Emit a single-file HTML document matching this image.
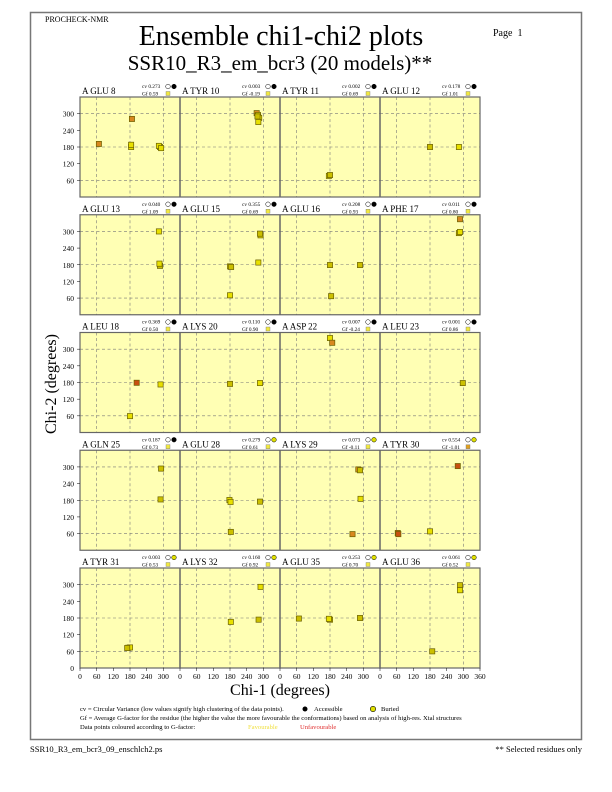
<!DOCTYPE html>
<html><head><meta charset="utf-8"><style>
body{margin:0;background:#fff}
svg{display:block}
text{font-family:"Liberation Serif",serif;fill:#000}
.yt{font-size:7.5px;text-anchor:end}
.xt{font-size:7.5px;text-anchor:middle}
.nm{font-size:9px}
.sm{font-size:5.3px}
.lg{font-size:6.6px}
</style></head><body>
<svg id="s" width="612" height="792" viewBox="0 0 612 792" xmlns="http://www.w3.org/2000/svg">
<rect x="30.5" y="12.5" width="551" height="727" fill="none" stroke="#777" stroke-width="1.5"/>
<text x="45" y="22" style="font-size:8px">PROCHECK-NMR</text>
<text x="281" y="45" style="font-size:28px;text-anchor:middle">Ensemble chi1-chi2 plots</text>
<text x="280" y="70" style="font-size:21px;text-anchor:middle">SSR10_R3_em_bcr3 (20 models)**</text>
<text x="493" y="36" style="font-size:10px">Page&#160; 1</text>
<g id="panels"></g>
<text transform="translate(56,384) rotate(-90)" style="font-size:16px;text-anchor:middle">Chi-2 (degrees)</text>
<text x="280" y="695" style="font-size:16px;text-anchor:middle">Chi-1 (degrees)</text>
<g class="yt">
<text class="yt" x="74" y="116.7">300</text><text class="yt" x="74" y="133.3">240</text><text class="yt" x="74" y="150">180</text><text class="yt" x="74" y="166.7">120</text><text class="yt" x="74" y="183.3">60</text>
<text class="yt" x="74" y="234.4">300</text><text class="yt" x="74" y="251.1">240</text><text class="yt" x="74" y="267.8">180</text><text class="yt" x="74" y="284.4">120</text><text class="yt" x="74" y="301.1">60</text>
<text class="yt" x="74" y="352.2">300</text><text class="yt" x="74" y="368.8">240</text><text class="yt" x="74" y="385.5">180</text><text class="yt" x="74" y="402.2">120</text><text class="yt" x="74" y="418.8">60</text>
<text class="yt" x="74" y="469.9">300</text><text class="yt" x="74" y="486.6">240</text><text class="yt" x="74" y="503.3">180</text><text class="yt" x="74" y="519.9">120</text><text class="yt" x="74" y="536.6">60</text>
<text class="yt" x="74" y="587.7">300</text><text class="yt" x="74" y="604.3">240</text><text class="yt" x="74" y="621">180</text><text class="yt" x="74" y="637.7">120</text><text class="yt" x="74" y="654.3">60</text><text class="yt" x="74" y="671">0</text>
</g>
<g>
<text class="xt" x="80" y="679">0</text><text class="xt" x="96.7" y="679">60</text><text class="xt" x="113.3" y="679">120</text><text class="xt" x="130" y="679">180</text><text class="xt" x="146.7" y="679">240</text><text class="xt" x="163.3" y="679">300</text>
<text class="xt" x="180" y="679">0</text><text class="xt" x="196.7" y="679">60</text><text class="xt" x="213.3" y="679">120</text><text class="xt" x="230" y="679">180</text><text class="xt" x="246.7" y="679">240</text><text class="xt" x="263.3" y="679">300</text>
<text class="xt" x="280" y="679">0</text><text class="xt" x="296.7" y="679">60</text><text class="xt" x="313.3" y="679">120</text><text class="xt" x="330" y="679">180</text><text class="xt" x="346.7" y="679">240</text><text class="xt" x="363.3" y="679">300</text>
<text class="xt" x="380" y="679">0</text><text class="xt" x="396.7" y="679">60</text><text class="xt" x="413.3" y="679">120</text><text class="xt" x="430" y="679">180</text><text class="xt" x="446.7" y="679">240</text><text class="xt" x="463.3" y="679">300</text><text class="xt" x="480" y="679">360</text>
</g>
<g>
<text class="nm" x="82" y="94">A GLU 8</text><text class="nm" x="182" y="94">A TYR 10</text><text class="nm" x="282" y="94">A TYR 11</text><text class="nm" x="382" y="94">A GLU 12</text>
<text class="nm" x="82" y="211.8">A GLU 13</text><text class="nm" x="182" y="211.8">A GLU 15</text><text class="nm" x="282" y="211.8">A GLU 16</text><text class="nm" x="382" y="211.8">A PHE 17</text>
<text class="nm" x="82" y="329.5">A LEU 18</text><text class="nm" x="182" y="329.5">A LYS 20</text><text class="nm" x="282" y="329.5">A ASP 22</text><text class="nm" x="382" y="329.5">A LEU 23</text>
<text class="nm" x="82" y="447.3">A GLN 25</text><text class="nm" x="182" y="447.3">A GLU 28</text><text class="nm" x="282" y="447.3">A LYS 29</text><text class="nm" x="382" y="447.3">A TYR 30</text>
<text class="nm" x="82" y="565">A TYR 31</text><text class="nm" x="182" y="565">A LYS 32</text><text class="nm" x="282" y="565">A GLU 35</text><text class="nm" x="382" y="565">A GLU 36</text>
</g>
<g class="sm">
<text class="sm" x="142" y="88">cv 0.273</text><text class="sm" x="142" y="95.5">Gf 0.59</text>
<text class="sm" x="242" y="88">cv 0.003</text><text class="sm" x="242" y="95.5">Gf -0.19</text>
<text class="sm" x="342" y="88">cv 0.002</text><text class="sm" x="342" y="95.5">Gf 0.69</text>
<text class="sm" x="442" y="88">cv 0.178</text><text class="sm" x="442" y="95.5">Gf 1.01</text>
<text class="sm" x="142" y="205.8">cv 0.040</text><text class="sm" x="142" y="213.3">Gf 1.09</text>
<text class="sm" x="242" y="205.8">cv 0.355</text><text class="sm" x="242" y="213.3">Gf 0.69</text>
<text class="sm" x="342" y="205.8">cv 0.208</text><text class="sm" x="342" y="213.3">Gf 0.93</text>
<text class="sm" x="442" y="205.8">cv 0.011</text><text class="sm" x="442" y="213.3">Gf 0.80</text>
<text class="sm" x="142" y="323.5">cv 0.369</text><text class="sm" x="142" y="331">Gf 0.50</text>
<text class="sm" x="242" y="323.5">cv 0.110</text><text class="sm" x="242" y="331">Gf 0.90</text>
<text class="sm" x="342" y="323.5">cv 0.007</text><text class="sm" x="342" y="331">Gf -0.24</text>
<text class="sm" x="442" y="323.5">cv 0.001</text><text class="sm" x="442" y="331">Gf 0.86</text>
<text class="sm" x="142" y="441.3">cv 0.187</text><text class="sm" x="142" y="448.8">Gf 0.73</text>
<text class="sm" x="242" y="441.3">cv 0.279</text><text class="sm" x="242" y="448.8">Gf 0.61</text>
<text class="sm" x="342" y="441.3">cv 0.073</text><text class="sm" x="342" y="448.8">Gf -0.11</text>
<text class="sm" x="442" y="441.3">cv 0.554</text><text class="sm" x="442" y="448.8">Gf -1.01</text>
<text class="sm" x="142" y="559">cv 0.003</text><text class="sm" x="142" y="566.5">Gf 0.53</text>
<text class="sm" x="242" y="559">cv 0.160</text><text class="sm" x="242" y="566.5">Gf 0.92</text>
<text class="sm" x="342" y="559">cv 0.253</text><text class="sm" x="342" y="566.5">Gf 0.70</text>
<text class="sm" x="442" y="559">cv 0.061</text><text class="sm" x="442" y="566.5">Gf 0.52</text>
</g>
<text class="lg" x="80" y="711">cv = Circular Variance (low values signify high clustering of the data points).</text>
<text class="lg" x="314" y="711">Accessible</text>
<text class="lg" x="381" y="711">Buried</text>
<circle cx="305" cy="709" r="2.5" fill="#000"/>
<circle cx="373" cy="709" r="2.7" fill="#e0e000" stroke="#000" stroke-width="0.6"/>
<text class="lg" x="80" y="720">Gf = Average G-factor for the residue (the higher the value the more favourable the conformations) based on analysis of high-res. Xtal structures</text>
<text class="lg" x="80" y="729">Data points coloured according to G-factor:</text>
<text class="lg" x="248" y="729" style="fill:#f0e040">Favourable</text>
<text class="lg" x="300" y="729" style="fill:#e03030">Unfavourable</text>
<text x="30" y="752" style="font-size:8.5px">SSR10_R3_em_bcr3_09_enschlch2.ps</text>
<text x="582" y="752" style="font-size:8.5px;text-anchor:end">** Selected residues only</text>
</svg>
<script>
(function(){
var NS="http://www.w3.org/2000/svg",g=document.getElementById("panels");
function el(n,a){var e=document.createElementNS(NS,n);for(var k in a)e.setAttribute(k,a[k]);g.appendChild(e);return e;}
var tops=[97,214.75,332.5,450.25,568];
var Y="#e8e000",O="#d88820",R="#c85010",D="#ccc000";
var data=[
[[[68,191,O],[187,281,O],[184,180,Y],[184,188,Y],[288,180,Y],[284,184,Y],[292,176,Y]],
 [[276,302,O],[281,295,Y],[285,285,Y],[282,270,Y],[279,290,D]],
 [[176,76,Y],[180,79,D]],
 [[180,180,D],[284,180,Y]]],
[[[284,300,Y],[288,176,D],[286,184,Y]],
 [[180,174,Y],[184,172,D],[290,286,Y],[288,292,D],[282,188,Y],[180,70,Y]],
 [[180,179,D],[288,179,D],[184,67,D]],
 [[288,344,O],[284,294,D],[288,298,Y]]],
[[[204,179,R],[290,173,Y],[180,59,Y]],
 [[180,175,D],[288,178,Y]],
 [[180,340,Y],[188,323,O]],
 [[298,178,D]]],
[[[292,294,D],[290,183,D]],
 [[178,181,Y],[182,174,Y],[288,175,D],[183,66,D]],
 [[282,291,O],[288,288,D],[290,185,Y],[261,58,O]],
 [[280,303,R],[64,62,R],[66,58,R],[180,68,Y]]],
[[[174,73,D],[180,74,Y],[170,72,D]],
 [[290,292,Y],[283,174,D],[183,166,Y]],
 [[68,178,D],[180,174,D],[176,177,Y],[288,180,D]],
 [[288,298,D],[288,280,Y],[188,60,D]]]
];
for(var r=0;r<5;r++){var T=tops[r];
 for(var c=0;c<4;c++){var L=80+100*c;
  el("rect",{x:L,y:T,width:100,height:100,fill:"#ffffb4"});
  [60,180,300].forEach(function(v){
   el("line",{x1:L+v/3.6,y1:T,x2:L+v/3.6,y2:T+100,stroke:"#777","stroke-width":0.6,"stroke-dasharray":"3,2.5"});
   el("line",{x1:L,y1:T+100-v/3.6,x2:L+100,y2:T+100-v/3.6,stroke:"#777","stroke-width":0.6,"stroke-dasharray":"3,2.5"});
  });
  data[r][c].forEach(function(p){
   el("rect",{x:L+p[0]/3.6-2.6,y:T+100-p[1]/3.6-2.6,width:5.2,height:5.2,fill:p[2],stroke:"#6a6000","stroke-width":0.7});
  });
  var iy=T-11;
  el("circle",{cx:L+88,cy:iy+0.5,r:2.3,fill:"#fff",stroke:"#000","stroke-width":0.5});
  el("circle",{cx:L+94,cy:iy+0.5,r:2.3,fill:(r>=3&&(r>3||c==1||c==2||c==3))?"#e0e000":"#000",stroke:"#000","stroke-width":0.5});
  el("rect",{x:L+86,y:iy+5.5,width:4,height:4,fill:(r==3&&c==3)?"#e0a020":"#f0e840",stroke:"#777","stroke-width":0.4});
 }
 el("rect",{x:80,y:T,width:400,height:100,fill:"none",stroke:"#666","stroke-width":1.2});
 for(var c2=1;c2<4;c2++)el("line",{x1:80+100*c2,y1:T,x2:80+100*c2,y2:T+100,stroke:"#666","stroke-width":1.5});
 [60,120,180,240,300].forEach(function(v){el("line",{x1:77,y1:T+100-v/3.6,x2:80,y2:T+100-v/3.6,stroke:"#000","stroke-width":0.5});});
}
for(var i=0;i<=24;i++){var x=80+i*100/6;el("line",{x1:x,y1:668,x2:x,y2:671,stroke:"#000","stroke-width":0.5});}
})();
</script>
</body></html>
